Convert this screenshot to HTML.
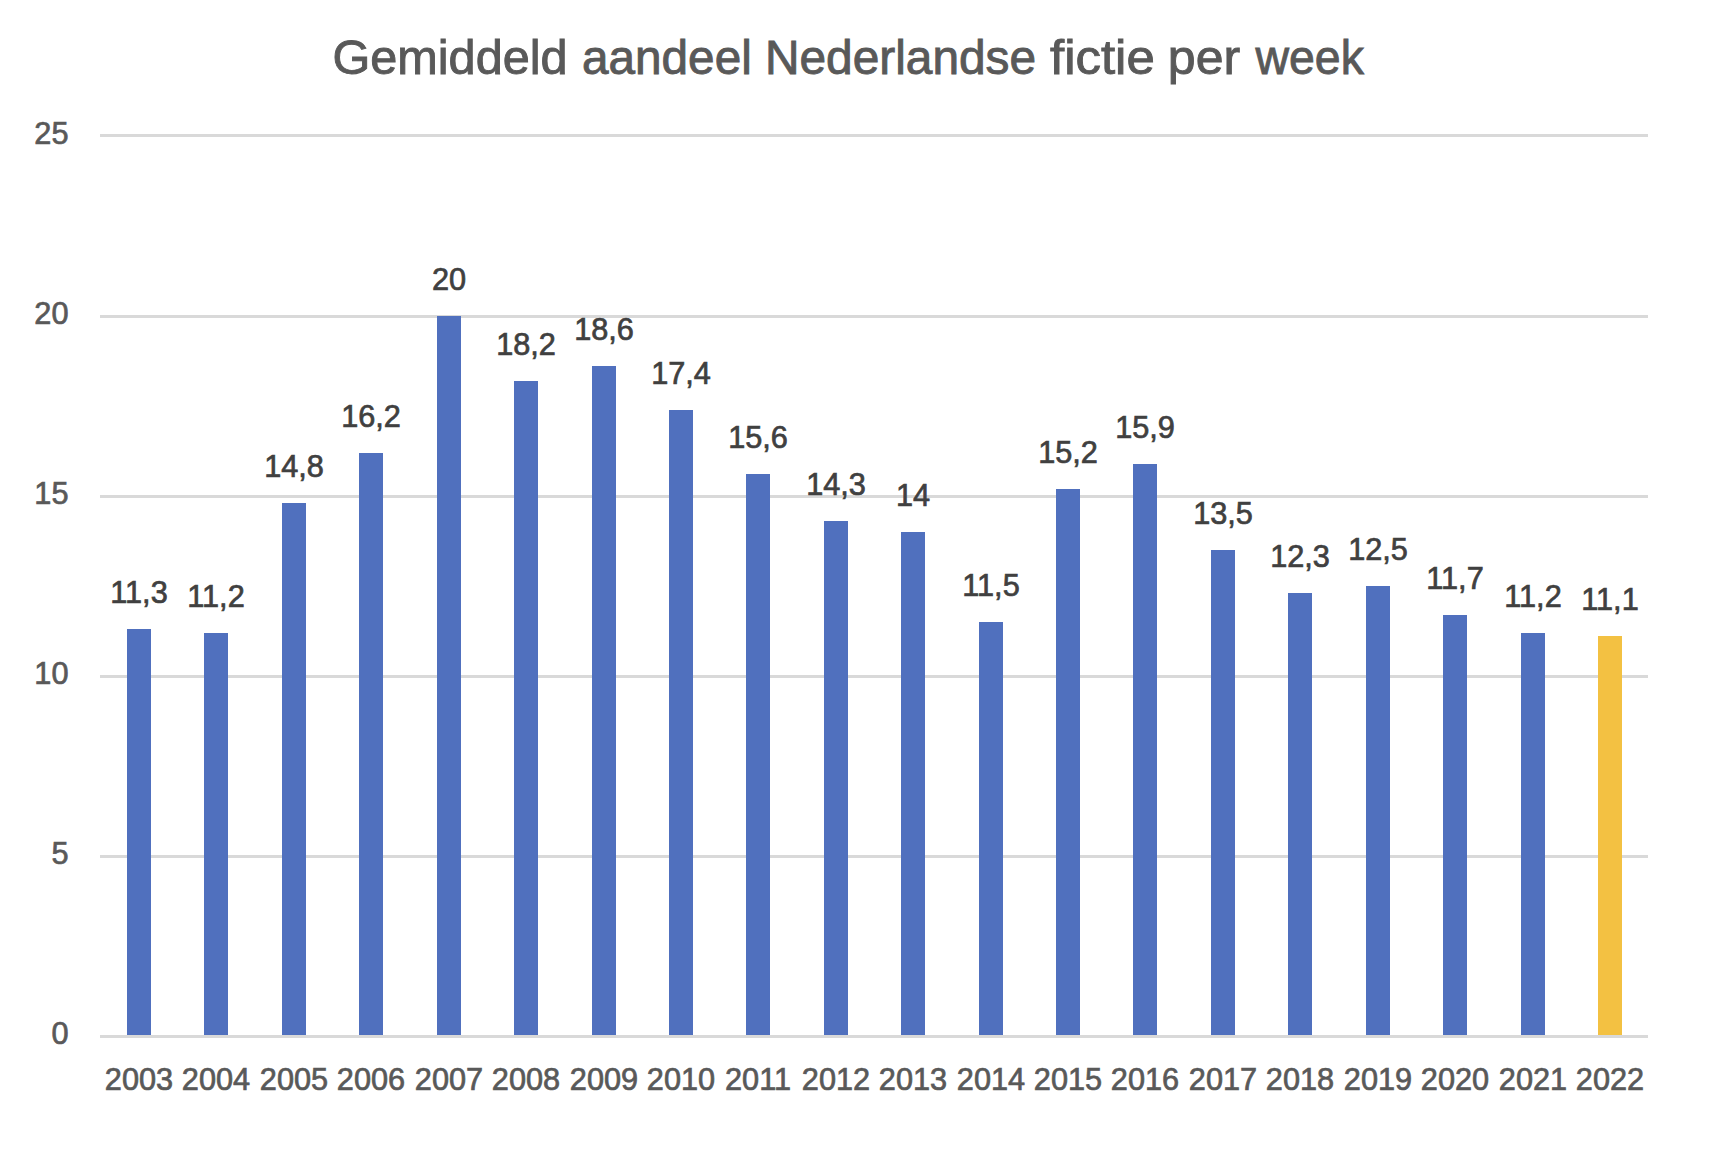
<!DOCTYPE html><html><head><meta charset="utf-8"><style>html,body{margin:0;padding:0;background:#fff;width:1716px;height:1150px;overflow:hidden}svg{display:block}text{font-family:"Liberation Sans",sans-serif}</style></head><body>
<svg width="1716" height="1150" viewBox="0 0 1716 1150">
<rect width="1716" height="1150" fill="#fff"/>
<rect x="100" y="134" width="1548" height="3" fill="#d9d9d9"/>
<rect x="100" y="315" width="1548" height="3" fill="#d9d9d9"/>
<rect x="100" y="495" width="1548" height="3" fill="#d9d9d9"/>
<rect x="100" y="675" width="1548" height="3" fill="#d9d9d9"/>
<rect x="100" y="855" width="1548" height="3" fill="#d9d9d9"/>
<rect x="100" y="1035" width="1548" height="3" fill="#d9d9d9"/>
<text x="68.5" y="143.7" font-size="30.7" fill="#595959" text-anchor="end" stroke="#595959" stroke-width="0.7">25</text>
<text x="68.5" y="324.3" font-size="30.7" fill="#595959" text-anchor="end" stroke="#595959" stroke-width="0.7">20</text>
<text x="68.5" y="504" font-size="30.7" fill="#595959" text-anchor="end" stroke="#595959" stroke-width="0.7">15</text>
<text x="68.5" y="684" font-size="30.7" fill="#595959" text-anchor="end" stroke="#595959" stroke-width="0.7">10</text>
<text x="68.5" y="863.7" font-size="30.7" fill="#595959" text-anchor="end" stroke="#595959" stroke-width="0.7">5</text>
<text x="68.5" y="1044" font-size="30.7" fill="#595959" text-anchor="end" stroke="#595959" stroke-width="0.7">0</text>
<rect x="127.00" y="629" width="24" height="406" fill="#5070be"/>
<text x="139.00" y="603" font-size="30.7" fill="#404040" stroke="#404040" stroke-width="0.7" text-anchor="middle">11,3</text>
<text x="139.00" y="1090" font-size="30.7" fill="#595959" stroke="#595959" stroke-width="0.7" text-anchor="middle">2003</text>
<rect x="204.00" y="633" width="24" height="402" fill="#5070be"/>
<text x="216.00" y="607" font-size="30.7" fill="#404040" stroke="#404040" stroke-width="0.7" text-anchor="middle">11,2</text>
<text x="216.00" y="1090" font-size="30.7" fill="#595959" stroke="#595959" stroke-width="0.7" text-anchor="middle">2004</text>
<rect x="282.00" y="503" width="24" height="532" fill="#5070be"/>
<text x="294.00" y="477" font-size="30.7" fill="#404040" stroke="#404040" stroke-width="0.7" text-anchor="middle">14,8</text>
<text x="294.00" y="1090" font-size="30.7" fill="#595959" stroke="#595959" stroke-width="0.7" text-anchor="middle">2005</text>
<rect x="359.00" y="453" width="24" height="582" fill="#5070be"/>
<text x="371.00" y="427" font-size="30.7" fill="#404040" stroke="#404040" stroke-width="0.7" text-anchor="middle">16,2</text>
<text x="371.00" y="1090" font-size="30.7" fill="#595959" stroke="#595959" stroke-width="0.7" text-anchor="middle">2006</text>
<rect x="437.00" y="316" width="24" height="719" fill="#5070be"/>
<text x="449.00" y="290" font-size="30.7" fill="#404040" stroke="#404040" stroke-width="0.7" text-anchor="middle">20</text>
<text x="449.00" y="1090" font-size="30.7" fill="#595959" stroke="#595959" stroke-width="0.7" text-anchor="middle">2007</text>
<rect x="514.00" y="381" width="24" height="654" fill="#5070be"/>
<text x="526.00" y="355" font-size="30.7" fill="#404040" stroke="#404040" stroke-width="0.7" text-anchor="middle">18,2</text>
<text x="526.00" y="1090" font-size="30.7" fill="#595959" stroke="#595959" stroke-width="0.7" text-anchor="middle">2008</text>
<rect x="592.00" y="366" width="24" height="669" fill="#5070be"/>
<text x="604.00" y="340" font-size="30.7" fill="#404040" stroke="#404040" stroke-width="0.7" text-anchor="middle">18,6</text>
<text x="604.00" y="1090" font-size="30.7" fill="#595959" stroke="#595959" stroke-width="0.7" text-anchor="middle">2009</text>
<rect x="669.00" y="410" width="24" height="625" fill="#5070be"/>
<text x="681.00" y="384" font-size="30.7" fill="#404040" stroke="#404040" stroke-width="0.7" text-anchor="middle">17,4</text>
<text x="681.00" y="1090" font-size="30.7" fill="#595959" stroke="#595959" stroke-width="0.7" text-anchor="middle">2010</text>
<rect x="746.00" y="474" width="24" height="561" fill="#5070be"/>
<text x="758.00" y="448" font-size="30.7" fill="#404040" stroke="#404040" stroke-width="0.7" text-anchor="middle">15,6</text>
<text x="758.00" y="1090" font-size="30.7" fill="#595959" stroke="#595959" stroke-width="0.7" text-anchor="middle">2011</text>
<rect x="824.00" y="521" width="24" height="514" fill="#5070be"/>
<text x="836.00" y="495" font-size="30.7" fill="#404040" stroke="#404040" stroke-width="0.7" text-anchor="middle">14,3</text>
<text x="836.00" y="1090" font-size="30.7" fill="#595959" stroke="#595959" stroke-width="0.7" text-anchor="middle">2012</text>
<rect x="901.00" y="532" width="24" height="503" fill="#5070be"/>
<text x="913.00" y="506" font-size="30.7" fill="#404040" stroke="#404040" stroke-width="0.7" text-anchor="middle">14</text>
<text x="913.00" y="1090" font-size="30.7" fill="#595959" stroke="#595959" stroke-width="0.7" text-anchor="middle">2013</text>
<rect x="979.00" y="622" width="24" height="413" fill="#5070be"/>
<text x="991.00" y="596" font-size="30.7" fill="#404040" stroke="#404040" stroke-width="0.7" text-anchor="middle">11,5</text>
<text x="991.00" y="1090" font-size="30.7" fill="#595959" stroke="#595959" stroke-width="0.7" text-anchor="middle">2014</text>
<rect x="1056.00" y="489" width="24" height="546" fill="#5070be"/>
<text x="1068.00" y="463" font-size="30.7" fill="#404040" stroke="#404040" stroke-width="0.7" text-anchor="middle">15,2</text>
<text x="1068.00" y="1090" font-size="30.7" fill="#595959" stroke="#595959" stroke-width="0.7" text-anchor="middle">2015</text>
<rect x="1133.00" y="464" width="24" height="571" fill="#5070be"/>
<text x="1145.00" y="438" font-size="30.7" fill="#404040" stroke="#404040" stroke-width="0.7" text-anchor="middle">15,9</text>
<text x="1145.00" y="1090" font-size="30.7" fill="#595959" stroke="#595959" stroke-width="0.7" text-anchor="middle">2016</text>
<rect x="1211.00" y="550" width="24" height="485" fill="#5070be"/>
<text x="1223.00" y="524" font-size="30.7" fill="#404040" stroke="#404040" stroke-width="0.7" text-anchor="middle">13,5</text>
<text x="1223.00" y="1090" font-size="30.7" fill="#595959" stroke="#595959" stroke-width="0.7" text-anchor="middle">2017</text>
<rect x="1288.00" y="593" width="24" height="442" fill="#5070be"/>
<text x="1300.00" y="567" font-size="30.7" fill="#404040" stroke="#404040" stroke-width="0.7" text-anchor="middle">12,3</text>
<text x="1300.00" y="1090" font-size="30.7" fill="#595959" stroke="#595959" stroke-width="0.7" text-anchor="middle">2018</text>
<rect x="1366.00" y="586" width="24" height="449" fill="#5070be"/>
<text x="1378.00" y="560" font-size="30.7" fill="#404040" stroke="#404040" stroke-width="0.7" text-anchor="middle">12,5</text>
<text x="1378.00" y="1090" font-size="30.7" fill="#595959" stroke="#595959" stroke-width="0.7" text-anchor="middle">2019</text>
<rect x="1443.00" y="615" width="24" height="420" fill="#5070be"/>
<text x="1455.00" y="589" font-size="30.7" fill="#404040" stroke="#404040" stroke-width="0.7" text-anchor="middle">11,7</text>
<text x="1455.00" y="1090" font-size="30.7" fill="#595959" stroke="#595959" stroke-width="0.7" text-anchor="middle">2020</text>
<rect x="1521.00" y="633" width="24" height="402" fill="#5070be"/>
<text x="1533.00" y="607" font-size="30.7" fill="#404040" stroke="#404040" stroke-width="0.7" text-anchor="middle">11,2</text>
<text x="1533.00" y="1090" font-size="30.7" fill="#595959" stroke="#595959" stroke-width="0.7" text-anchor="middle">2021</text>
<rect x="1598.00" y="636" width="24" height="399" fill="#f3c142"/>
<text x="1610.00" y="610" font-size="30.7" fill="#404040" stroke="#404040" stroke-width="0.7" text-anchor="middle">11,1</text>
<text x="1610.00" y="1090" font-size="30.7" fill="#595959" stroke="#595959" stroke-width="0.7" text-anchor="middle">2022</text>
<text x="332.45" y="74" font-size="47.5" fill="#595959" stroke="#595959" stroke-width="0.9" textLength="235.13" lengthAdjust="spacingAndGlyphs">Gemiddeld</text>
<text x="582.0" y="74" font-size="47.5" fill="#595959" stroke="#595959" stroke-width="0.9" textLength="169.78" lengthAdjust="spacingAndGlyphs">aandeel</text>
<text x="764.88" y="74" font-size="47.5" fill="#595959" stroke="#595959" stroke-width="0.9" textLength="271.29" lengthAdjust="spacingAndGlyphs">Nederlandse</text>
<text x="1050.0" y="74" font-size="47.5" fill="#595959" stroke="#595959" stroke-width="0.9" textLength="104.79" lengthAdjust="spacingAndGlyphs">fictie</text>
<text x="1167.84" y="74" font-size="47.5" fill="#595959" stroke="#595959" stroke-width="0.9" textLength="72.25" lengthAdjust="spacingAndGlyphs">per</text>
<text x="1255.48" y="74" font-size="47.5" fill="#595959" stroke="#595959" stroke-width="0.9" textLength="108.44" lengthAdjust="spacingAndGlyphs">week</text>
</svg></body></html>
